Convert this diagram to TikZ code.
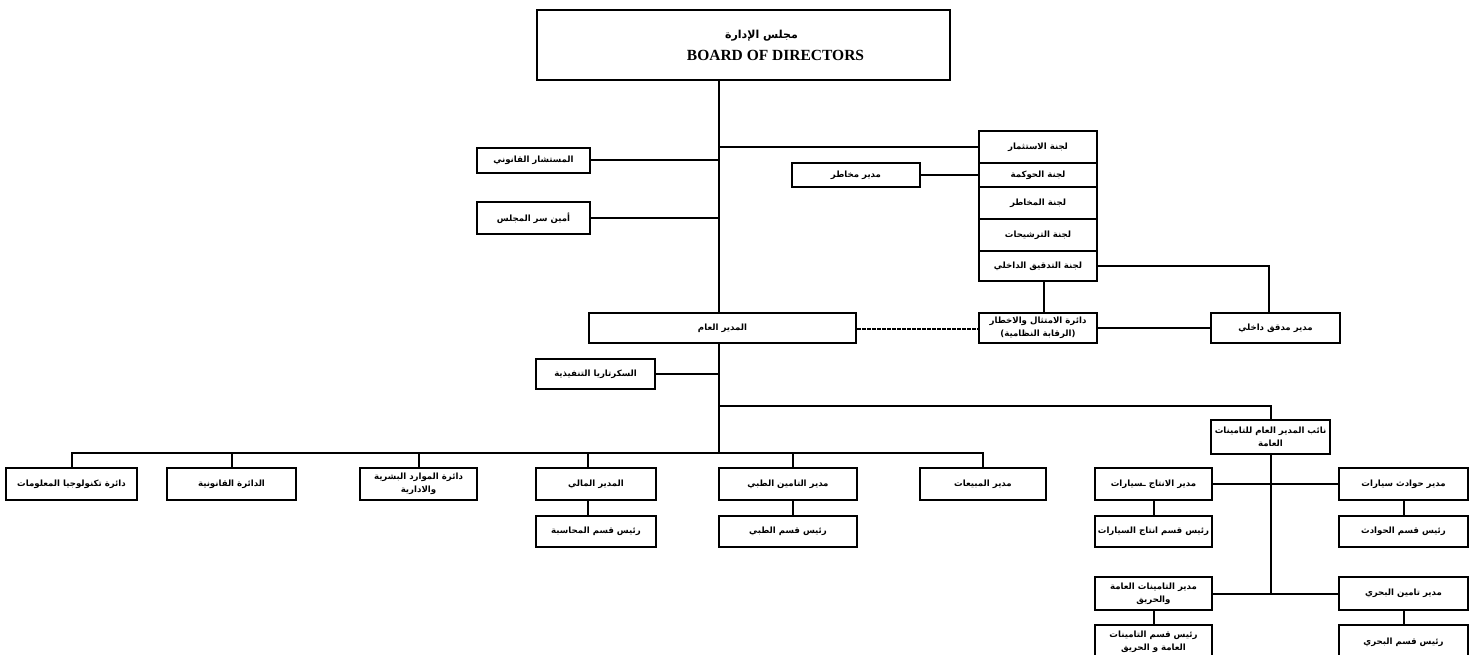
\documentclass[tikz,border=0pt]{standalone}
\usepackage{fontspec}
\TeXXeTstate=1
\newfontfamily\arabicfont[Script=Arabic]{DejaVu Sans}
\newfontfamily\enfont{Liberation Serif}
\newcommand\ar[1]{\beginR #1\endR}
\tikzset{
  box/.style={draw, line width=2pt, fill=white, inner sep=0pt, align=center,
    font=\arabicfont\bfseries\fontsize{8.6}{13}\selectfont},
  ln/.style={line width=2pt},
  dln/.style={line width=2pt, dash pattern=on 3.5pt off 1.5pt}
}
\newcommand\bx[6]{%
  \pgfmathsetmacro\bxw{#4-#2}\pgfmathsetmacro\bxh{#5-#3}%
  \pgfmathsetmacro\bxcx{(#2+#4)/2}\pgfmathsetmacro\bxcy{(#3+#5)/2}%
  \node[box, minimum width=\bxw pt, minimum height=\bxh pt] (#1) at (\bxcx,\bxcy) {#6};}
\begin{document}
\begin{tikzpicture}[x=1pt,y=-1pt]
\useasboundingbox (0,0) rectangle (1480,655);
\coordinate (t) at (719,0);
\coordinate (bus) at (719,453);
\coordinate (j1) at (719,406);
% board
\bx{board}{537}{10}{950}{80}{\hspace*{36pt}{\fontsize{11}{13}\selectfont\ar{مجلس الإدارة}}\\[9pt]
  \hspace*{64pt}{\enfont\bfseries\fontsize{15.5}{18}\selectfont BOARD OF DIRECTORS}}
% left of trunk
\bx{legal}{477}{148}{590}{173}{\ar{المستشار القانوني}}
\bx{bsec}{477}{202}{590}{234}{\ar{أمين سر المجلس}}
% committees
\bx{c1}{979}{131}{1097}{163}{\ar{لجنة الاستثمار}}
\bx{c2}{979}{163}{1097}{187}{\ar{لجنة الحوكمة}}
\bx{c3}{979}{187}{1097}{219}{\ar{لجنة المخاطر}}
\bx{c4}{979}{219}{1097}{251}{\ar{لجنة الترشيحات}}
\bx{c5}{979}{251}{1097}{281}{\ar{لجنة التدقيق الداخلي}}
\bx{riskm}{792}{163}{920}{187}{\ar{مدير مخاطر}}
% GM row
\bx{gm}{589}{313}{856}{343}{\ar{المدير العام}}
\bx{comp}{979}{313}{1097}{343}{\ar{دائرة الامتثال والاخطار}\\\ar{(الرقابة النظامية)}}
\bx{aud}{1211}{313}{1340}{343}{\ar{مدير مدقق داخلي}}
\bx{esec}{536}{359}{655}{389}{\ar{السكرتاريا التنفيذية}}
% deputy
\bx{dep}{1211}{420}{1330}{454}{\ar{نائب المدير العام للتامينات}\\\ar{العامة}}
% bottom row
\bx{it}{6}{468}{137}{500}{\ar{دائرة تكنولوجيا المعلومات}}
\bx{ldep}{167}{468}{296}{500}{\ar{الدائرة القانونية}}
\bx{hr}{360}{468}{477}{500}{\ar{دائرة الموارد البشرية}\\\ar{والادارية}}
\bx{cfo}{536}{468}{656}{500}{\ar{المدير المالي}}
\bx{med}{719}{468}{857}{500}{\ar{مدير التامين الطبي}}
\bx{sales}{920}{468}{1046}{500}{\ar{مدير المبيعات}}
\bx{acc}{536}{516}{656}{547}{\ar{رئيس قسم المحاسبة}}
\bx{hmed}{719}{516}{857}{547}{\ar{رئيس قسم الطبي}}
% insurance branch
\bx{prod}{1095}{468}{1212}{500}{\ar{مدير  الانتاج ـسيارات}}
\bx{accm}{1339}{468}{1468}{500}{\ar{مدير حوادث سيارات}}
\bx{hprod}{1095}{516}{1212}{547}{\ar{رئيس قسم انتاج السيارات}}
\bx{hacc}{1339}{516}{1468}{547}{\ar{رئيس قسم الحوادث}}
\bx{gim}{1095}{577}{1212}{610}{\ar{مدير التامينات العامة}\\\ar{والحريق}}
\bx{mar}{1339}{577}{1468}{610}{\ar{مدير تامين البحري}}
\bx{hgi}{1095}{625}{1212}{659}{\ar{رئيس قسم  التامينات}\\\ar{العامة و الحريق}}
\bx{hmar}{1339}{625}{1468}{659}{\ar{رئيس قسم البحري}}
% connectors
\draw[ln] (board.south -| t) -- (gm.north -| t);
\draw[ln] (c1.west) -- (c1.west -| t);
\draw[ln] (legal.east) -- (legal.east -| t);
\draw[ln] (bsec.east) -- (bsec.east -| t);
\draw[ln] (riskm.east) -- (riskm.east -| c2.west);
\draw[ln] ([xshift=6pt]c5.south) -- ([xshift=6pt]comp.north);
\draw[ln] (c5.east) -| ([xshift=-7pt]aud.north);
\draw[ln] (comp.east) -- (aud.west);
\draw[dln] ([yshift=-1pt]gm.east) -- ([yshift=-1pt]comp.west);
\draw[ln] (gm.south -| t) -- (bus);
\draw[ln] (esec.east) -- (esec.east -| t);
\draw[ln] (j1) -| (dep.north);
\draw[ln] (it.north) |- (bus) -| (sales.north);
\draw[ln] (ldep.north) -- (ldep.north |- bus);
\draw[ln] (hr.north) -- (hr.north |- bus);
\draw[ln] ([xshift=-8pt]cfo.north) -- ([xshift=-8pt]cfo.north |- bus);
\draw[ln] ([xshift=5pt]med.north) -- ([xshift=5pt]med.north |- bus);
\draw[ln] ([xshift=-8pt]cfo.south) -- ([xshift=-8pt]acc.north);
\draw[ln] ([xshift=5pt]med.south) -- ([xshift=5pt]hmed.north);
\draw[ln] (dep.south) -- (dep.south |- gim.east);
\draw[ln] (prod.east) -- (accm.west);
\draw[ln] (gim.east) -- (mar.west);
\draw[ln] (prod.south) -- (hprod.north);
\draw[ln] (accm.south) -- (hacc.north);
\draw[ln] (gim.south) -- (hgi.north);
\draw[ln] (mar.south) -- (hmar.north);
\end{tikzpicture}
\end{document}
